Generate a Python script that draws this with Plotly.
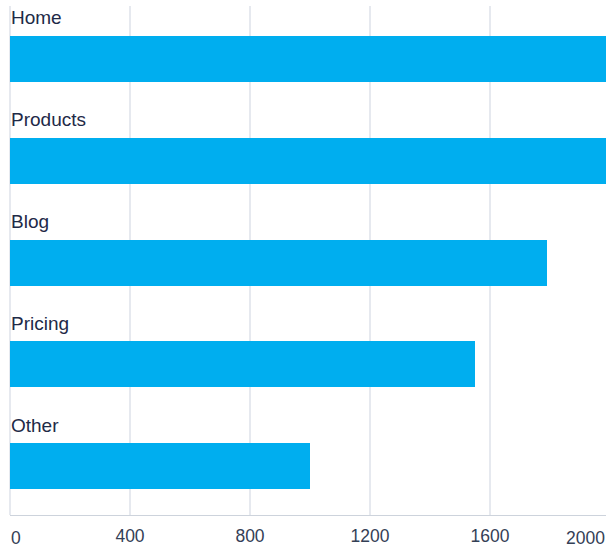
import plotly.graph_objects as go

categories = ["Home", "Products", "Blog", "Pricing", "Other"]
values = [2000, 1990, 1790, 1550, 1000]
tick_values = [0, 400, 800, 1200, 1600]
tick_labels = ["", "400", "800", "1200", "1600"]
first_tick_label = "0"
last_tick_label = "2000"

bar_color = "#00aeef"
label_color = "#1e2a47"
tick_color = "#344056"
font_family = "Liberation Sans, Arial, Helvetica, sans-serif"
label_size = 19
tick_size = 17.5

fig = go.Figure()
fig.add_trace(go.Bar(
    y=categories,
    x=values,
    orientation="h",
    marker=dict(color=bar_color, line=dict(width=0)),
    width=0.452,
    offset=-0.205,
    hoverinfo="skip",
))

annotations = []
for cat in categories:
    annotations.append(dict(
        x=0, y=cat, xref="x", yref="y",
        text=cat, showarrow=False,
        xanchor="left", yanchor="middle",
        yshift=39, xshift=-1,
        font=dict(size=label_size, color=label_color, family=font_family),
    ))
# edge tick labels, aligned to stay inside the plot like the reference
annotations.append(dict(
    x=0, y=0, xref="paper", yref="paper",
    text=first_tick_label, showarrow=False,
    xanchor="left", yanchor="top", yshift=-11, xshift=-1,
    font=dict(size=tick_size, color=tick_color, family=font_family),
))
annotations.append(dict(
    x=1, y=0, xref="paper", yref="paper",
    text=last_tick_label, showarrow=False,
    xanchor="right", yanchor="top", yshift=-11, xshift=1,
    font=dict(size=tick_size, color=tick_color, family=font_family),
))

fig.update_layout(
    width=606, height=547,
    margin=dict(l=10, r=0, t=6, b=32),
    paper_bgcolor="white", plot_bgcolor="white",
    showlegend=False,
    bargap=0,
    annotations=annotations,
    font=dict(family=font_family, size=tick_size, color=tick_color),
)
fig.update_xaxes(
    range=[0, 596 / 0.3],
    tickvals=tick_values, ticktext=tick_labels,
    showgrid=True, gridcolor="#e6e9ef", gridwidth=2,
    zeroline=True, zerolinecolor="#e6e9ef", zerolinewidth=2,
    showline=True, linecolor="#cdd3dc", linewidth=1,
    ticks="outside", ticklen=5, tickcolor="rgba(0,0,0,0)",
    tickfont=dict(size=tick_size, color=tick_color, family=font_family),
    fixedrange=True,
)
fig.update_yaxes(
    type="category",
    categoryorder="array", categoryarray=categories,
    range=[4.5, -0.5],
    showticklabels=False, showgrid=False, zeroline=False, showline=False,
    fixedrange=True,
)

fig.write_html("out.html", config={"displayModeBar": False})
